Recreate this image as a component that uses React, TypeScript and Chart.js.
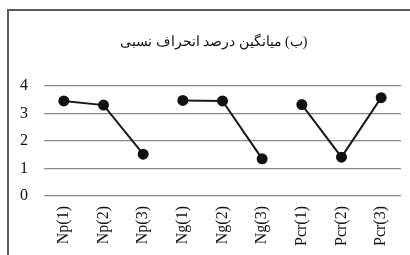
import React, { useEffect, useRef } from "react";
import { Chart, registerables } from "chart.js";

Chart.register(...registerables);

const categories = ["Np(1)", "Np(2)", "Np(3)", "Ng(1)", "Ng(2)", "Ng(3)", "Pcr(1)", "Pcr(2)", "Pcr(3)"];
const npValues = [3.45, 3.3, 1.52, null, null, null, null, null, null];
const ngValues = [null, null, null, 3.47, 3.45, 1.35, null, null, null];
const pcrValues = [null, null, null, null, null, null, 3.32, 1.41, 3.57];
const yTicks = [0, 1, 2, 3, 4];
const titleText = "     \u202B(ب) میانگین درصد انحراف نسبی\u202C";

export default function App() {
  const ref = useRef<HTMLCanvasElement>(null);
  useEffect(() => {
    if (!ref.current) return;
    const mk = (data: (number | null)[]) => ({
      data,
      borderColor: "#1a1a1a",
      backgroundColor: "#1a1a1a",
      borderWidth: 2,
      pointRadius: 4.5,
      pointBackgroundColor: "#111",
      pointBorderColor: "#111",
      spanGaps: false,
      tension: 0,
    });
    const chart = new Chart(ref.current, {
      type: "line",
      data: {
        labels: categories,
        datasets: [mk(npValues), mk(ngValues), mk(pcrValues)],
      },
      options: {
        animation: false,
        responsive: false,
        devicePixelRatio: 1,
        layout: { padding: { left: 0, right: 18, top: 0, bottom: 0 } },
        plugins: {
          legend: { display: false },
          tooltip: { enabled: false },
          title: {
            display: true,
            text: titleText,
            color: "#111",
            font: { family: "'Liberation Serif', 'DejaVu Serif', serif", size: 14, weight: "normal" },
            padding: { top: 23, bottom: 35 },
          },
        },
        scales: {
          x: {
            offset: true,
            grid: { display: false, drawTicks: false },
            border: { display: false },
            ticks: {
              color: "#111",
              minRotation: 90,
              maxRotation: 90,
              padding: 10,
              font: { family: "'Liberation Serif', serif", size: 16 },
            },
          },
          y: {
            min: 0,
            max: 4,
            afterBuildTicks: (s: any) => {
              s.ticks = yTicks.map((v) => ({ value: v }));
            },
            afterFit: (s: any) => {
              s.width = 35;
            },
            grid: { color: "#8a8a8a", lineWidth: 1.2, drawTicks: false },
            border: { display: false },
            ticks: {
              color: "#111",
              padding: 16,
              font: { family: "'Liberation Serif', serif", size: 16 },
            },
          },
        },
      },
    });
    return () => chart.destroy();
  }, []);
  return (
    <div style={{ position: "fixed", left: 0, top: 0, width: 410, height: 255, overflow: "hidden", background: "#fff" }}>
      <div
        style={{
          position: "absolute",
          left: 7,
          top: 9,
          width: 430,
          height: 270,
          borderTop: "2px solid #5a5a5a",
          borderLeft: "2px solid #5a5a5a",
        }}
      >
        <canvas ref={ref} width={410} height={245} style={{ display: "block" }} />
      </div>
    </div>
  );
}
